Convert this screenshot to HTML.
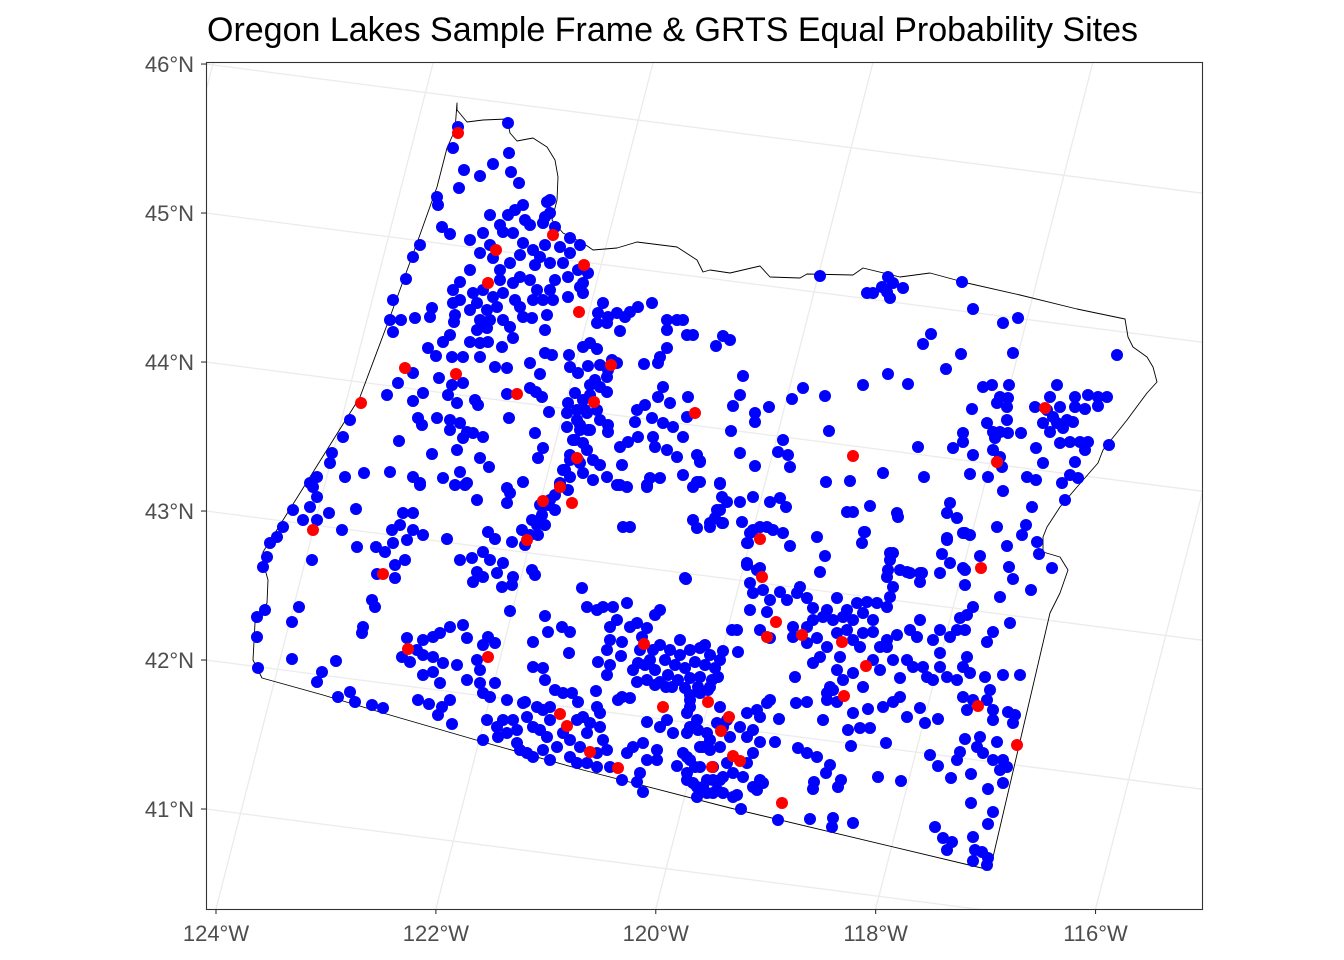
<!DOCTYPE html>
<html><head><meta charset="utf-8"><style>
html,body{margin:0;padding:0;background:#fff;overflow:hidden;width:1344px;height:960px;}
svg{display:block;font-family:"Liberation Sans",Arial,sans-serif;}
</style></head><body>
<svg id="chart" width="1344" height="960" viewBox="0 0 1344 960" xmlns="http://www.w3.org/2000/svg">
<defs><clipPath id="panelClip"><rect x="206" y="62" width="996" height="847"/></clipPath></defs>
<rect x="0" y="0" width="1344" height="960" fill="#fff"/>
<text x="207" y="41" font-size="34" fill="#000">Oregon Lakes Sample Frame &amp; GRTS Equal Probability Sites</text>
<g id="grid" clip-path="url(#panelClip)"></g>
<g id="state" clip-path="url(#panelClip)"></g>
<g id="blue" clip-path="url(#panelClip)"></g>
<g id="red" clip-path="url(#panelClip)"></g>
<rect x="206.5" y="62.5" width="996" height="847" fill="none" stroke="#333" stroke-width="1.1"/>
<g id="axes"></g>
</svg>
<script>
// Tick values
const latTicks = [41, 42, 43, 44, 45, 46];
const lonTicks = [-124, -122, -120, -118, -116];
const latLabels = ["41°N", "42°N", "43°N", "44°N", "45°N", "46°N"];
const lonLabels = ["124°W", "122°W", "120°W", "118°W", "116°W"];
// Projected site coordinates (map units, easting/northing)
const blueSites = [
[-121,186.5],[-96,188.5],[-123.5,176],[-95.5,173.5],[-103.5,168],[-118,165],[-110,162],[-94.5,164],[-90.5,158.5],[-120.5,156],[-131.5,151.5],[-131,147.5],[-75,150],[-77.5,141.5],[-88.5,147.5],[-96,142.5],[-87.5,140],[-129,136.5],[-125,133],[-108.5,133.5],[-140,127.5],[-143.5,121.5],[-147,110.5],[-153.5,100],[-155,90],[-149.5,90],[-153.5,84],[-142.5,91],[-134,96],[-135,91.5],[-123.5,98.5],[-123,89],[-125,82.5],[-128.5,79],[-136,76],[-132,72],[-124,71.5],[-118.5,71.5],[-115,79],[-110,78.5],[-106,79],[-110,71.5],[-99,76.5],[-102.5,66.5],[-96.5,66],[-85,68.5],[-80,63],[-77.5,73.5],[-74,72.5],[-65.5,72.5],[-65,66.5],[-61,63.5],[-58.5,76.5],[-55,78.5],[-51.5,75.5],[-56,67],[-41.5,68.5],[-28,68],[-21,68.5],[-16.5,76],[-20,71.5],
[-143.5,63.5],[-151,58.5],[-156.5,52.5],[-143.5,49.5],[-138.5,53.5],[-130.5,61],[-124,57.5],[-118.5,58.5],[-126,52.5],[-121.5,48.5],[-112.5,50],[-111,47.5],[-96.5,53],[-85,56],[-82,54],[-79,51.5],[-95.5,41],[-75.5,44],[-141,41],[-139,37.5],[-131.5,41],[-125,40],[-120,38.5],[-125,35],[-116.5,34],[-118.5,31],[-108.5,31.5],[-113.5,33.5],[-150.5,29.5],[-134,23],[-121.5,25],[-110,21],[-105.5,16.5],[-82.5,33.5],[-78.5,26],[-81,21],[-155,14],[-168,13.5],[-177.5,11.5],[-143.5,11.5],[-140,8.5],[-128.5,11],[-120,14],[-116.5,8.5],[-88.5,9],[-96.5,6],
[-175,40],[-178.5,31.5],[-184,23.5],[-185,18.5],[-191.5,11.5],[-195,8.5],
[-98.5,134],[-93.5,133.5],[-88.5,128.5],[-83.5,125],[-80,121.5],[-75,118.5],[-70,126.5],[-65,131],[-60,127.5],[-68.5,118.5],[-66,111.5],[-61,115],[-56,113.5],[-60,106.5],[-58.5,103.5],[-66,101.5],[-75,105],[-78.5,100],[-81.5,105],[-85,110],[-90,111.5],[-95,118.5],[-100,115],[-103.5,121],[-110,123.5],[-93.5,108.5],[-98.5,103.5],[-103.5,101.5],[-108.5,105],[-113.5,103.5],[-120,109],[-123.5,105],[-111.5,98.5],[-106.5,95],[-101.5,96.5],[-110,90],[-105,90],[-98.5,90],[-95,86.5],[-111.5,85],[-106.5,86],[-93.5,81],[-90,96.5],[-88.5,91.5],[-84,91],[-83.5,100],[-76.5,92.5],[-73.5,100],[-76.5,149],[-75,143.5],[-78.5,138.5],[-72.5,136.5],[-65,123.5],[-58.5,108.5],
[-105,142.5],[-100,137.5],[-92.5,145],[-85,137.5],[-115,130],[-105,127.5],[-90,122.5],[-82.5,117.5],[-100,110],[-115,95],[-120,100],[-122.5,92.5],[-115,115],[-77.5,127.5],[-72.5,110],[-92.5,100],[-77.5,85],
[-48.5,98.5],[-51,93.5],[-46,91.5],[-41.5,93.5],[-37.5,91.5],[-35,94],[-31,96.5],[-24,98.5],[-51.5,88.5],[-46.5,88.5],[-40,84.5],[-16.5,90],[-11.5,90],[-8.5,90],[-16.5,85],[-6.5,82.5],[-3.5,82.5],[-44,70],[-46.5,61.5],[-50,56.5],[-46.5,54],[-55,57.5],[-62.5,53.5],[-58.5,50],[-66,48.5],[-66.5,43.5],[-61.5,45],[-56.5,43.5],[-51.5,45],[-50,40],[-61.5,40],[-66.5,36.5],[-60,35],[-55,35],[-46,37.5],[-46,34],[-63.5,30],[-58.5,28.5],[-56.5,25],[-65,20],[-60,18.5],[-53.5,20],[-50,17.5],[-68.5,15],[-65,11.5],[-58.5,13.5],[-70,8.5],[-53.5,10],[-46.5,11.5],[-18.5,56.5],[-21,51.5],[-15,48.5],[-31.5,45],[-27.5,47.5],[-32.5,39],[-24,41],[-18.5,38.5],[-13.5,36.5],[-6,51.5],[-6.5,41.5],[-23.5,31.5],[-22.5,26.5],[-31,31.5],[-36,29],[-40,26.5],[-39,17.5],[-16.5,25],[-11.5,21.5],[-8.5,31.5],[-1.5,22.5],[0,19],[-8.5,12.5],[-25,11],[-20,11],[-26.5,7.5],[-1.5,9],[-40,7.5],
[-50,67.5],[-52.5,60],[-55,52.5],[-57.5,45],[-60,37.5],[-62.5,30],[-65,22.5],[-67.5,15],[-70,7.5],[-72.5,2.5],[-76,-2.5],[-79,-7.5],[-81.5,-12.5],[-85,-17.5],[-87.5,-22.5],[-46,65],[-56,35],[-61,20],[-66,5],[-72.5,-5],[-77.5,-12.5],[-81,-17.5],[-84,-10],[-75,0],[-80,-2.5],[-89,-15],
[60,112],[83.5,103.5],[86.5,103.5],[91,106.5],[94,111.5],[96.5,108.5],[95,101],[101.5,106],[93.5,104],[131,109],[136.5,95.5],[151.5,88.5],[159,91],[156.5,73.5],[208.5,72.5],[11.5,82],[15,80],[8,77],[115.5,83],[111.5,78],[130.5,73],[123,65.5],[94,63],[104,58],[81.5,57.5],[21.5,62],[20,52.5],[16.5,47],[27.5,43.5],[27.5,39],[34.5,46.5],[46,50.5],[51.5,56],[62.5,52],[15.5,34.5],[64.5,34.5],[41.5,30],[39,24],[44,22.5],[45,16.5],[20,23.5],[27.5,17],[10,8],[0,19.5],[0,9],[63,9],[75,9.5],[91.5,13.5],[112,11.5],[109,26.5],[126.5,26],[131.5,33.5],[131.5,29],[136.5,22.5],
[141.5,56.5],[146,57.5],[150,51.5],[154,51],[148.5,48.5],[153.5,46.5],[153.5,40],[143.5,38.5],[146.5,34],[150,34],[154,33.5],[147.5,31],[160.5,33.5],[154.5,57.5],[136,45.5],[146.5,25],[150,21.5],[151,16.5],[144,11.5],[135,13],[151.5,4.5],
[178.5,57.5],[175,51.5],[167.5,46.5],[173.5,45],[180,46.5],[176.5,41.5],[171.5,38.5],[178.5,38.5],[183.5,40],[186.5,39],[175,34],[181.5,36],[180,28.5],[185,29],[190,29],[194,29],[192.5,25],[187.5,51.5],[187.5,46.5],[194,52.5],[199,51.5],[203.5,51.5],[192.5,45.5],[199,47],[204.5,27.5],[187.5,19],[171.5,18.5],[168,26],[163.5,11.5],[168,10],[185,12.5],[189,11],[181,8.5],[182.5,0],[166,-3.5],[163,-12.5],[161,-17.5],[168.5,-21],[169.5,-27],[176,-34],[153.5,-23],[148.5,-13.5],[154.5,-33.5],
[132.5,-16.5],[123.5,-20],[121,-27],[140,-28],[131.5,-34],[125,-31.5],[120,-36.5],[125,-1.5],[128.5,-9],[123.5,-6.5],[98.5,-6.5],[99,-8.5],[85,-3],[73.5,-6],[76.5,-6],[82,-16],[81,-21.5],[58.5,-18.5],[62.5,-28],[60,-36],[95,-26.5],[94,-35],[103.5,-36],[111,-36.5],[45,-23],[41.5,-16.5],[36.5,-15],[33.5,-13.5],[26.5,-15],[24,-21.5],[35,-1],[40,1],[43,-3.5],[26.5,1.5],[20,-1],[13.5,-1],[10,-5],[7.5,-9],[21,-11],[11,-11.5],[5,-13.5],[23.5,-32.5],[30,-34],
[-193.5,6.5],[-191.5,1.5],[-195,-3.5],[-203.5,-5],[-198.5,-10],[-191.5,-10],[-208.5,-13.5],[-211.5,-18.5],[-215,-21.5],[-216.5,-28.5],[-218.5,-33.5],[-217.5,-55],[-221.5,-58.5],[-221.5,-68.5],[-221,-84],[-185.5,-6.5],[-172,-4.5],[-179,-15],[-171.5,-23.5],[-194,-30],[-200.5,-53.5],[-204,-61],[-204,-79.5],[-182,-80.5],[-189,-86],[-191.5,-91],[-181,-98.5],[-175,-96],[-172.5,-101],[-164,-102.5],[-158.5,-104],[-168.5,-63.5],[-169,-66.5],[-164,-50],[-162.5,-53.5],[-161.5,-37],[-152.5,-39],[-152.5,-32.5],[-147.5,-30],[-157.5,-26],[-162,-23.5],[-153.5,-21.5],[-154,-15],[-150,-12.5],[-148.5,-6.5],[-143.5,-6.5],[-143.5,-15],[-138.5,-17.5],[-146.5,-20],[-126.5,-19.5],[-140,7.5],[-122.5,7.5],[-117.5,7.5],[-111.5,0],
[-146.5,-69],[-149,-78.5],[-145,-81],[-141.5,-75],[-138.5,-70],[-133.5,-68.5],[-130,-66.5],[-125,-63.5],[-118.5,-62.5],[-116.5,-69],[-138.5,-77.5],[-133.5,-78.5],[-128.5,-81.5],[-138.5,-87.5],[-133.5,-86],[-130,-91.5],[-121.5,-82.5],[-141,-100],[-135.5,-102],[-129,-103.5],[-125,-100],[-131,-107.5],[-124,-112],[-108.5,-72.5],[-102.5,-71.5],[-111.5,-80],[-110,-85],[-116.5,-90],[-110,-91.5],[-108.5,-96.5],[-105,-98.5],[-102.5,-91.5],[-106,-68.5],
[-120,-30],[-114,-29],[-108.5,-26],[-105,-30],[-98.5,-31.5],[-106,-16],[-102.5,-19.5],[-111.5,-36],[-108.5,-38.5],[-113.5,-41],[-101.5,-36.5],[-93.5,-38.5],[-94,-42.5],[-99,-43.5],[-84,-35],[-82.5,-37.5],[-96.5,-1.5],[-95,3.5],[-94,-21],[-95,-55.5],[-83.5,-71],[-77.5,-58],[-76,-66],[-69,-63.5],[-65,-66],[-65.5,-76.5],[-83.5,-83.5],[-78.5,-84],[-77.5,-90],[-96.5,-100],[-87.5,-101],[-81.5,-103.5],[-75,-103.5],[-72.5,-95],[-68.5,-96.5],[-64,-96.5],[-61,-101],[-51.5,-103.5],[-52,-95.5],
[-59,-44],[-56.5,-53.5],[-51.5,-55],[-48.5,-53.5],[-43.5,-53.5],[-36.5,-51.5],[-45,-63.5],[-41.5,-60],[-35,-63.5],[-31.5,-61.5],[-26.5,-64],[-20,-55],[-22.5,-57.5],[-45,-70],[-46.5,-75],[-39,-71],[-39.5,-78],[-51,-81],[-45,-82.5],[-46.5,-87.5],[-29,-68.5],[-30,-75],[-31,-81.5],[-33.5,-85],[-31.5,-91],[-26.5,-90],[-22.5,-92.5],[-17,-93.5],[-7,-39.5],[-38.5,-13.5],[-35,-13.5],[-39,-98.5],[-35,-99],[-41,-100],
[-20,-72.5],[-15,-75],[-10,-77.5],[-5,-75],[0,-74],[5,-77.5],[-17.5,-80],[-12.5,-82.5],[-7.5,-84],[-2.5,-81],[2.5,-82.5],[7.5,-84],[-22.5,-85],[-16,-87.5],[-11,-90],[-5,-89],[0,-88.5],[6,-90],[-20,-91],[-14,-93.5],[-7.5,-94],[-1,-93.5],[4,-95],[-25,-80],[10,-80],[-23.5,-75],[9,-88.5],[-27.5,-82.5],[2.5,-72.5],[-10,-70],[-5,-97.5],
[-106.5,-110],[-101.5,-113.5],[-98.5,-110],[-93.5,-110],[-96.5,-116.5],[-101,-118.5],[-91.5,-115],[-86.5,-108.5],[-88.5,-101.5],[-83.5,-113.5],[-91.5,-121.5],[-78.5,-105],[-80,-115],[-75,-110],[-76.5,-118.5],[-71.5,-123.5],[-78.5,-125],[-68.5,-116.5],[-65,-120],[-61.5,-110],[-58.5,-108.5],[-56.5,-116.5],[-60,-123.5],[-65,-128.5],[-61.5,-131.5],[-56.5,-131.5],[-51.5,-126.5],[-48.5,-120],[-50,-113.5],[-46.5,-125],[-45,-133.5],[-51.5,-133.5],[-55,-111.5],[-50,-106.5],[-39,-140],[-30,-136.5],[-28.5,-146],[-31.5,-141],[-36.5,-126.5],[-33.5,-123.5],[-28.5,-121.5],[-26.5,-130],[-21.5,-125],[-21.5,-130],[-11.5,-133],[-6.5,-128.5],[-2.5,-133.5],[-6.5,-140],[-1.5,-143.5],[3.5,-140],[6.5,-146.5],[10,-140],[1.5,-123.5],[5,-120],[-5,-103.5],[-1.5,-110],[-6.5,-116.5],[-16.5,-110],[-13.5,-116.5],[-20,-113.5],[-26.5,-111],[0,-96.5],[5,-93.5],[10,-103.5],[11.5,-113.5],[-108.5,-120],[-90,-125],[-86.5,-126.5],[-75,-130],[-83.5,-128.5],
[-41.5,7.5],[-36.5,6.5],[-26.5,6.5],[-3.5,6.5],[10,8.5],[11,1.5],[8.5,-5],[-3.5,-10],[5,-11.5],[11.5,-11.5],[-1.5,-14],
[30,-13.5],[25,-16.5],[23.5,-21.5],[23.5,-31.5],[28.5,-35],[25,-41.5],[26.5,-46.5],[31.5,-45],[35,-50],[40,-46],[43.5,-50],[48.5,-46.5],[50,-43.5],[53.5,-49],[56.5,-54],[63.5,-55],[68.5,-49],[73.5,-55],[78.5,-51.5],[83.5,-51],[81.5,-56.5],[76.5,-60],[71.5,-58.5],[66.5,-60],[61.5,-58.5],[56.5,-60],[53.5,-63.5],[46.5,-63.5],[46.5,-68.5],[53.5,-71.5],[58.5,-69],[63.5,-73.5],[68.5,-66.5],[73.5,-65],[76.5,-70],[80,-73.5],[81.5,-66.5],[86.5,-60],[86.5,-66],[88.5,-51.5],[93.5,-53.5],[95,-48.5],[96.5,-43.5],[93.5,-38.5],[95,-30],[96.5,-26.5],[100,-35],[105,-36.5],[110,-36.5],[110,-41],[33.5,-56],[25,-55],[30,-65],[35,-69],[18.5,-65],
[70,-78.5],[68.5,-85],[71.5,-90],[65,-93.5],[63.5,-100],[68.5,-101],[60,-78.5],[56.5,-81.5],[76.5,-86.5],[81.5,-93.5],[86.5,-80],[90,-85],[93.5,-73.5],[96.5,-80],[100,-89],[103.5,-80],[106.5,-83.5],[111.5,-83.5],[113.5,-88.5],[116.5,-90],[120,-83.5],[123.5,-88.5],[128.5,-90],[131.5,-83.5],[133.5,-78.5],[135,-86.5],[120,-65],[125,-68.5],[128.5,-65],[116.5,-70],[120,-76.5],[105,-65],[108.5,-68.5],[98.5,-67.5],[93.5,-70],[90,-73.5],[110,-60],[130,-59],[133.5,-57.5],[136.5,-53.5],[132.5,-65],[142.5,-88.5],[151.5,-87.5],[160,-87.5],[143.5,-71],[146.5,-66],[155,-61.5],
[131.5,-16.5],[135,-17.5],[123.5,-19],[132.5,-35],[132.5,-42.5],[156.5,-39.5],[165.5,-45],[150,-48.5],[82.5,-16],[-7.5,-39],[11.5,-75.5],[19,-76],[16,-65],[47.5,-88.5],[48,-101.5],[53.5,-101],[61.5,-110],[63.5,-96.5],[66.5,-95],[76.5,-106.5],[84,-104.5],[91.5,-103.5],[96.5,-101],[100,-98.5],[110,-104],[103.5,-108.5],[112.5,-111.5],[119,-109.5],[75.5,-123],[74,-115],[80,-114],[85,-114],[93,-121.5],[37.5,-121],[39.5,-109.5],
[131.5,-98.5],[136.5,-100],[133.5,-105],[143.5,-100],[145,-95],[146.5,-105],[146.5,-110],[154,-106],[157.5,-107.5],[156.5,-111.5],[140,-118.5],[138.5,-123.5],[141.5,-126.5],[132.5,-119.5],[148.5,-121],[146.5,-130],[151.5,-130],[150,-135],[153.5,-133.5],[151.5,-141.5],[144,-144.5],[135.5,-137],[135.5,-151.5],[146.5,-156],[144,-162],[117.5,-163.5],[121.5,-169],[126,-171],[123.5,-175],[136.5,-168.5],[137.5,-175],[141,-176],[136.5,-180.5],[144,-179],[143.5,-182.5],[115,-127.5],[119,-133],[128.5,-130],[130,-126],[125.5,-139],[100.5,-140.5],[89,-138.5],[70.5,-140],[69,-143.5],[57,-141],[56.5,-144.5],[63,-136.5],[65,-132.5],[58.5,-128.5],[53.5,-126.5],[49,-124],[55,-159.5],[66.5,-159],[66,-163.5],[76.5,-161.5],[39,-160],[20.5,-154.5],[18.5,-147.5],[26.5,-143.5],[30,-140],[21.5,-138.5],
[-5,-100],[-6.5,-106.5],[-5,-113.5],[-1,-115],[13.5,-110],[8.5,-111.5],[3.5,-116.5],[0,-123.5],[5,-125],[10,-123.5],[15,-118.5],[20,-113.5],[23.5,-106.5],[28.5,-105],[33.5,-101.5],[35,-100],[30,-108.5],[26.5,-115],[23.5,-118.5],[30,-121],[26.5,-126.5],[23.5,-131.5],[16.5,-136.5],[11.5,-138.5],[6.5,-140],[1.5,-143.5],[-3.5,-141.5],[-6.5,-136.5],[-5,-130],[0,-133.5],[6.5,-133.5],[13.5,-131.5],[8.5,-145],[3.5,-146.5],[-1.5,-148.5],[11.5,-146.5],[16.5,-148.5],[28.5,-145],[31.5,-141.5],[-8.5,-126.5]
];
const redSites = [
[-121,183.5],[-73.5,132.5],[-102,125],[-58,117.5],[-106,108.5],[-60.5,94],[-147.5,66],[-122,63],[-91.5,53],[-44.5,67.5],[-53,49],[-2.5,43.5],[-61.5,21],[-70,6.5],[-169.5,48.5],[-193.5,-15],[-158.5,-37],[-146,-74.5],[-106,-78.5],[-78.5,-0.5],[-64,-1.5],[-86.5,-20],[-70,-107],[-66.5,-113],[-55,-126],[-41,-134],[-28,-72],[-18.5,-103.5],[4,-101],[10.5,-115.5],[6,-133.5],[76.5,22],[148.5,19],[172.5,46],[30,-19.5],[140.5,-34],[31,-38.5],[38,-61],[33.5,-68.5],[51,-67.5],[71,-71],[83,-83],[72,-98],[14.5,-108.5],[16.5,-128],[20,-130.5],[41,-151.5],[139,-103],[158.5,-122.5]
];
const outline = [
[-121.5,198.5],[-121.5,195],[-116.5,189],[-108.5,190],[-96.5,190.5],[-95,183.5],[-91.5,179.5],[-83.5,181],[-76.5,176.5],[-72.5,170],[-71,161.5],[-71.5,150],[-74,140],[-68.5,133.5],[-58.5,128.5],[-53.5,125],[-41.5,126],[-31.5,129],[-11.5,126.5],[-1.5,120],[1.5,114],[5,115],[15,113.5],[30,117],[35,111.5],[50,111],[53.5,113],[76.5,112.5],[81.5,116],[100,111.5],[115,113.5],[133.5,108.5],[160,102.5],[188.5,95.5],[212.5,90.5],[214,81.5],[216.5,76.5],[223.5,71.5],[226.5,66.5],[228.5,59],[223.5,53.5],[213.5,40],[201.5,25],[199,18.5],[188.5,6.5],[180,-3.5],[173.5,-13.5],[171.5,-18.5],[171.5,-26],[180,-28.5],[184,-35],[180,-46.5],[175,-56.5],[145,-185],[15,-154],[-58.5,-135],[-108.5,-121],[-158.5,-106.5],[-188.5,-97.5],[-219,-89],[-223.5,-80],[-222.5,-61.5],[-216.5,-51.5],[-216,-40],[-218.5,-31],[-218.5,-26],[-200,3.5],[-170,51.5],[-155,91.5],[-141.5,128.5],[-131.5,156.5],[-126.5,176],[-122.5,185]
];

const NS = "http://www.w3.org/2000/svg";
function xMap(e){ return 700 + e*2; }
function yMap(n){ return 500 - n*2; }
const G0 = [740.1, 580.3], GU = [106.4, 13.8], GM = [37, -144.2];
function geo(lon, lat){
  return [G0[0] + (lon+120)*GU[0] + (lat-43)*GM[0], G0[1] + (lon+120)*GU[1] + (lat-43)*GM[1]];
}
function mk(tag, attrs, parent){
  const el = document.createElementNS(NS, tag);
  for (const k in attrs) el.setAttribute(k, attrs[k]);
  parent.appendChild(el);
  return el;
}
const grid = document.getElementById('grid');
for (let lat = 39; lat <= 48; lat++){
  const a = geo(-128, lat), b = geo(-112, lat);
  const ln = mk('line', {x1:a[0], y1:a[1], x2:b[0], y2:b[1], stroke:'#ebebeb', 'stroke-width':1.3}, grid);
  
  
}
for (let lon = -128; lon <= -112; lon += 2){
  const a = geo(lon, 38), b = geo(lon, 49);
  const ln = mk('line', {x1:a[0], y1:a[1], x2:b[0], y2:b[1], stroke:'#ebebeb', 'stroke-width':1.3}, grid);
  
  
}
const st = document.getElementById('state');
const poly = mk('polygon', {points: outline.map(p => xMap(p[0]).toFixed(1)+','+yMap(p[1]).toFixed(1)).join(' '), fill:'none', stroke:'#000', 'stroke-width':0.9, 'stroke-linejoin':'round'}, st);



const bg = document.getElementById('blue');
blueSites.forEach(p => {
  const c = mk('circle', {cx:xMap(p[0]), cy:yMap(p[1]), r:6, fill:'#0000ff'}, bg);
  
  
});
const rg = document.getElementById('red');
redSites.forEach(p => {
  const c = mk('circle', {cx:xMap(p[0]), cy:yMap(p[1]), r:6, fill:'#ff0000'}, rg);
  
  
});

const ax = document.getElementById('axes');
latTicks.forEach((lat, i) => {
  const s = ((206 - G0[0] - (lat-43)*GM[0]) / GU[0]);
  const y = G0[1] + s*GU[1] + (lat-43)*GM[1];
  const t = mk('line', {x1:201, y1:y, x2:206, y2:y, stroke:'#333', 'stroke-width':1.1}, ax);
  
  
  const tx = mk('text', {x:194, y:y+8, 'font-size':22, fill:'#4d4d4d', 'text-anchor':'end'}, ax);
  tx.textContent = latLabels[i];
  
  
});
lonTicks.forEach((lon, i) => {
  const d = (909 - G0[1] - (lon+120)*GU[1]) / GM[1];
  const x = G0[0] + (lon+120)*GU[0] + d*GM[0];
  const t = mk('line', {x1:x, y1:909, x2:x, y2:914, stroke:'#333', 'stroke-width':1.1}, ax);
  
  
  const tx = mk('text', {x:x, y:941, 'font-size':22, fill:'#4d4d4d', 'text-anchor':'middle'}, ax);
  tx.textContent = lonLabels[i];
  
  
});
</script>
</body></html>
